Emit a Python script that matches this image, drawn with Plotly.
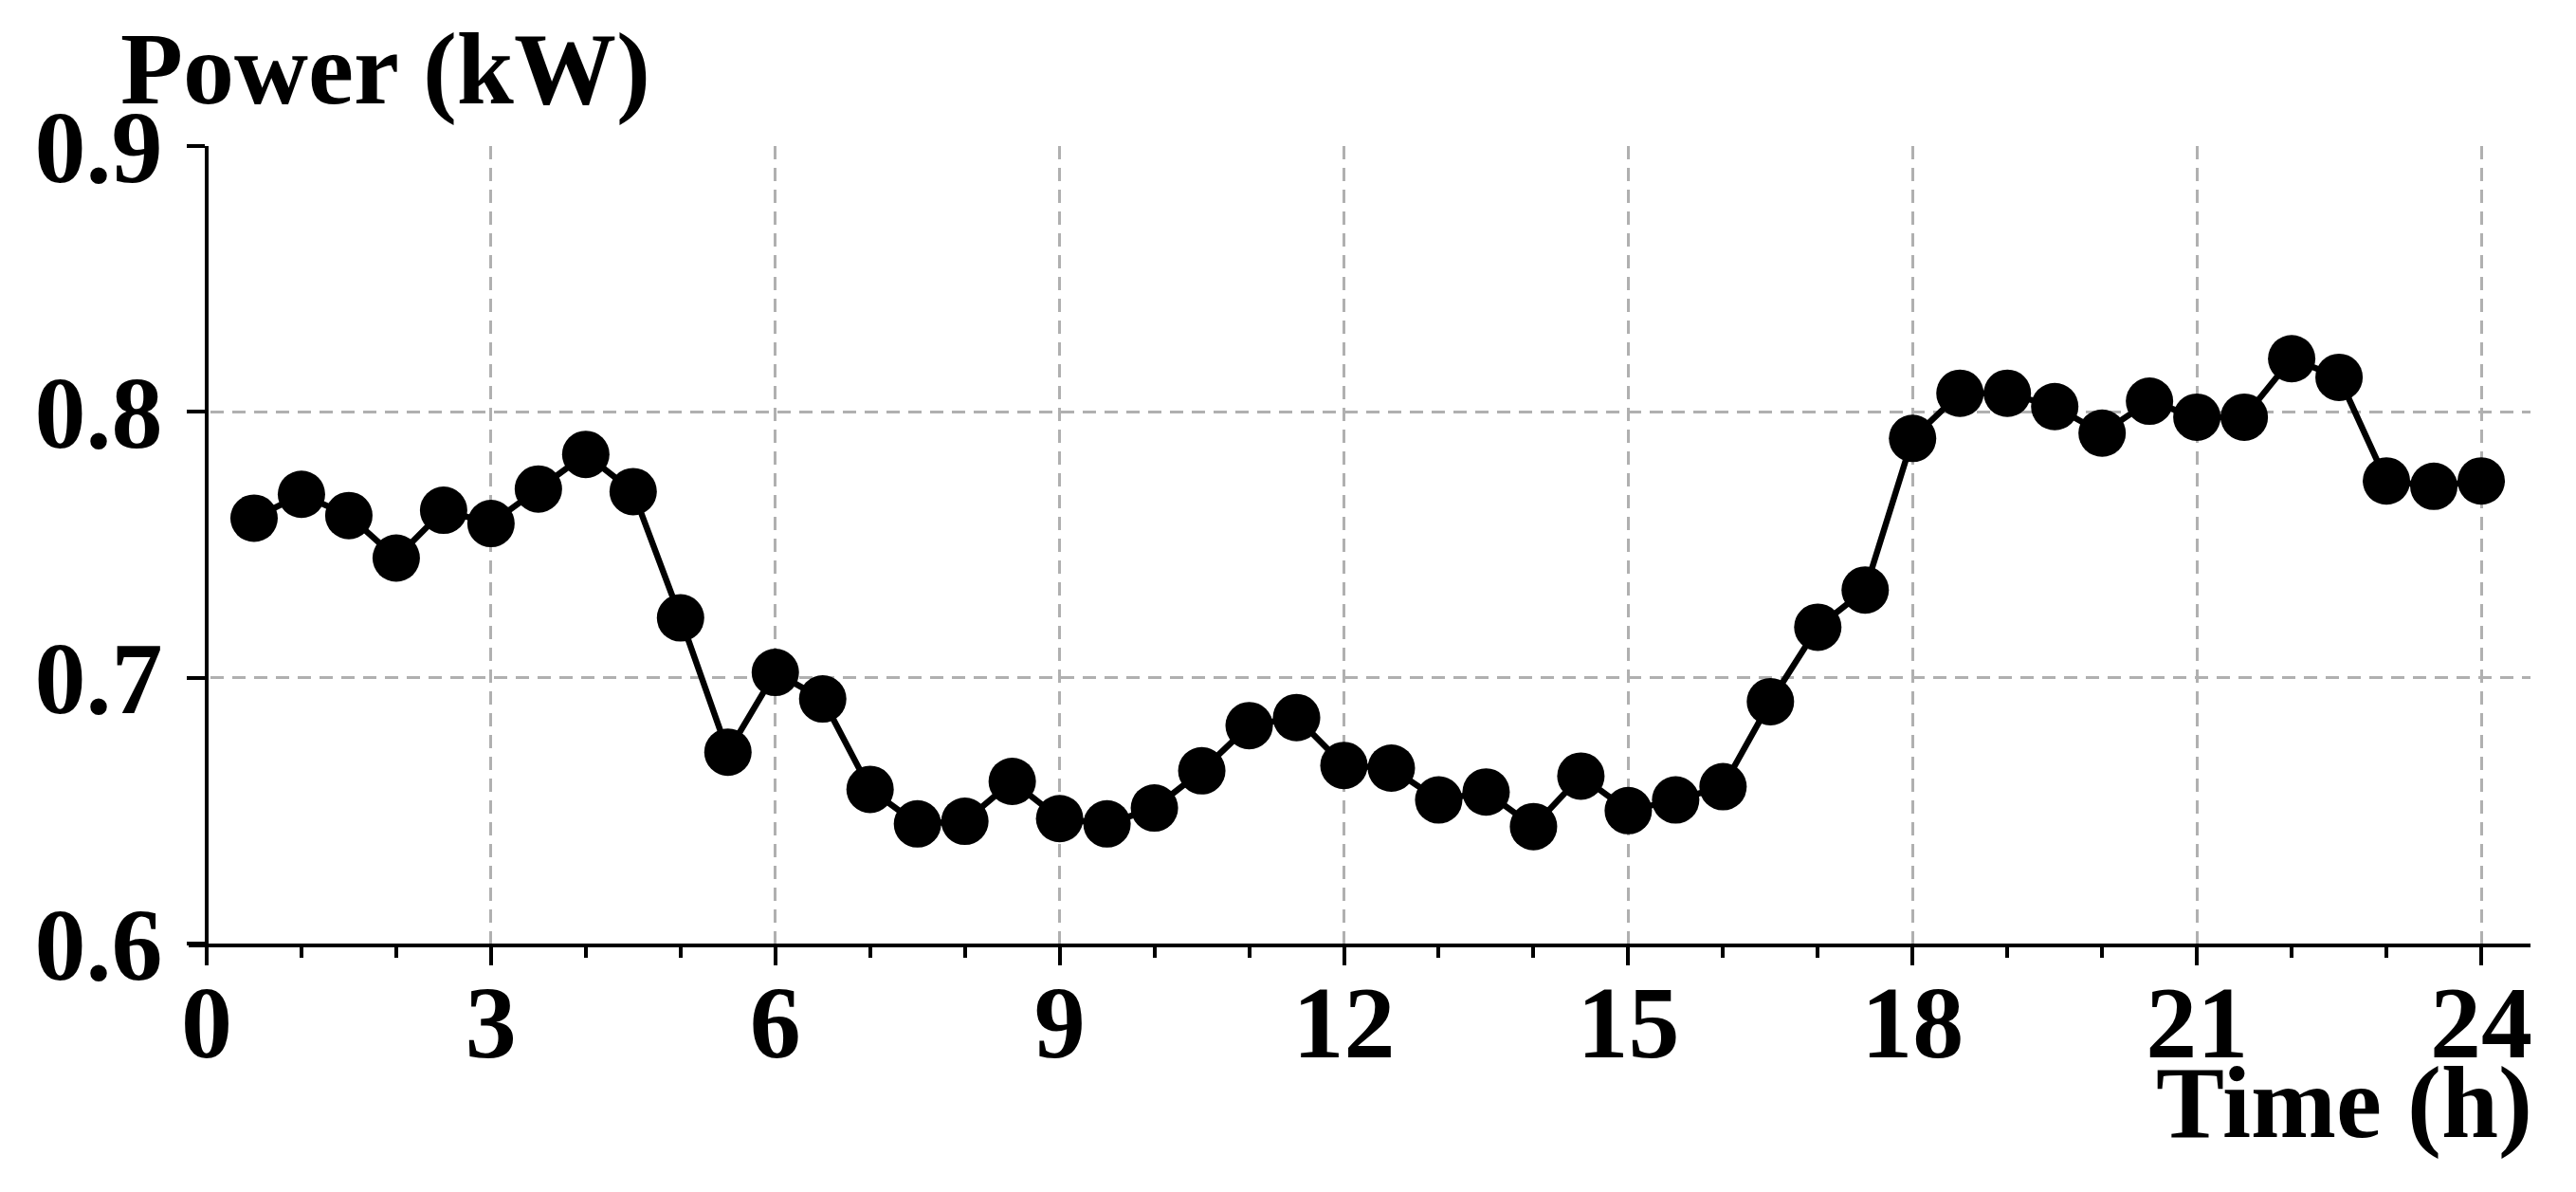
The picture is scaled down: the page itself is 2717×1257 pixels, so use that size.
import plotly.graph_objects as go

hours = [0.5 * i for i in range(1, 49)]
power = [0.760, 0.769, 0.761, 0.745, 0.763, 0.758, 0.771, 0.784, 0.770, 0.7225,
         0.672, 0.702, 0.692, 0.658, 0.645, 0.646, 0.661, 0.647, 0.645, 0.651,
         0.665, 0.682, 0.685, 0.667, 0.666, 0.654, 0.657, 0.644, 0.663, 0.650,
         0.654, 0.659, 0.691, 0.719, 0.733, 0.790, 0.807, 0.807, 0.802, 0.792,
         0.804, 0.798, 0.798, 0.820, 0.813, 0.774, 0.772, 0.774]

x_ticks = [0, 3, 6, 9, 12, 15, 18, 21, 24]
y_ticks = [0.6, 0.7, 0.8, 0.9]

FONT = "Liberation Serif"
X_MIN, X_MAX = -0.19, 24.52
GRID = "#b0b0b0"

fig = go.Figure()
fig.add_trace(go.Scatter(
    x=hours, y=power, mode="lines+markers",
    line=dict(color="black", width=6.5),
    marker=dict(color="black", size=50),
    showlegend=False,
))

fig.update_layout(
    width=2717, height=1257,
    margin=dict(l=191, r=56, t=146, b=270),
    paper_bgcolor="white", plot_bgcolor="white",
    font=dict(family=FONT, size=108, color="black"),
    xaxis=dict(
        range=[X_MIN, X_MAX], tickvals=x_ticks,
        showline=True, linecolor="black", linewidth=4,
        ticks="outside", ticklen=19, tickwidth=3.5, tickcolor="black",
        minor=dict(dtick=1, tick0=0, ticks="outside", ticklen=11, tickwidth=3.5,
                   tickcolor="black", showgrid=False),
        showgrid=True, gridcolor=GRID, gridwidth=3, griddash="14px,9px",
        zeroline=False, ticklabelstandoff=-33,
        tickfont=dict(family=FONT, size=108, color="black", weight="bold"),
    ),
    yaxis=dict(
        range=[0.6, 0.9], tickvals=y_ticks, ticktext=[f"{v:.1f}" for v in y_ticks],
        anchor="free", position=(0 - X_MIN) / (X_MAX - X_MIN),
        showline=True, linecolor="black", linewidth=4,
        ticks="outside", ticklen=19, tickwidth=3.5, tickcolor="black",
        showgrid=True, gridcolor=GRID, gridwidth=3, griddash="14px,9px",
        zeroline=False, ticklabelstandoff=4,
        tickfont=dict(family=FONT, size=108, color="black", weight="bold"),
    ),
    annotations=[
        dict(text="Power (kW)", xref="paper", yref="paper", x=0, y=1.0,
             xanchor="left", yanchor="bottom", xshift=-74, yshift=19, showarrow=False,
             font=dict(family=FONT, size=108, color="black", weight="bold")),
        dict(text="Time (h)", xref="paper", yref="paper", x=1.0, y=0,
             xanchor="right", yanchor="top", xshift=4, yshift=-106, showarrow=False,
             font=dict(family=FONT, size=108, color="black", weight="bold")),
    ],
)

fig.write_html("out.html")
